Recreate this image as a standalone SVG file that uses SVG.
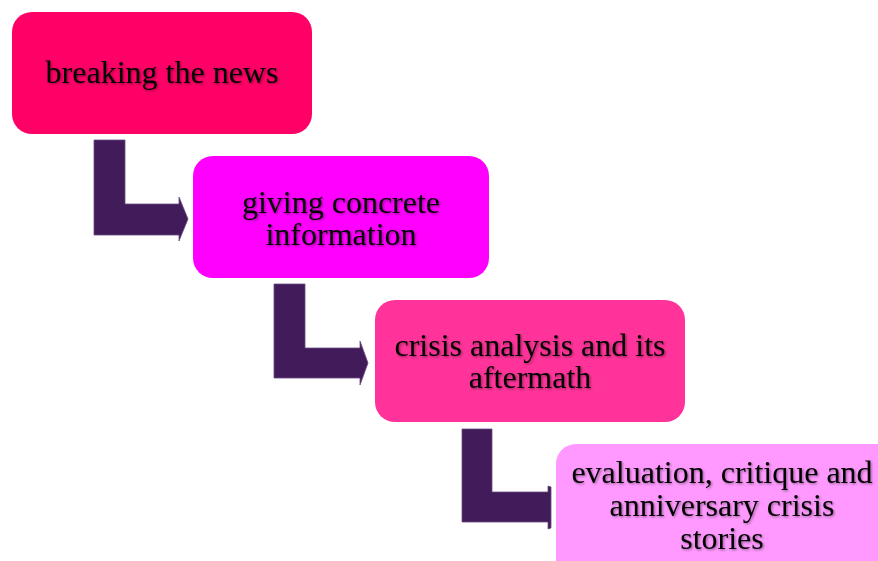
<svg xmlns="http://www.w3.org/2000/svg" width="878" height="561" viewBox="0 0 878 561">
<defs>
<filter id="sh" x="-10%" y="-30%" width="120%" height="160%">
<feDropShadow dx="1.2" dy="1.2" stdDeviation="0.8" flood-color="#000" flood-opacity="0.4"/>
</filter>
</defs>
<style>
.lbl{font-family:"Liberation Serif","Times New Roman",serif;font-size:32px;fill:#000;text-anchor:middle;filter:url(#sh)}
.arr{fill:#421C5A;stroke:#6A4A80;stroke-width:0.8}
</style>
<rect width="878" height="561" fill="#fff"/>
<g id="connectors">
<path class="arr" d="M94,140 H125 V204 H179 V197 L188,219 L179,241 V235 H94 Z"/>
<path class="arr" d="M274,284 H305 V348 H360 V341 L368,363 L360,385 V378 H274 Z"/>
<path class="arr" d="M462,429 H492 V492 H548 V486 L551,487 V528 L548,529 V522 H462 Z"/>
</g>
<g id="node1">
<rect x="12" y="12" width="300" height="122" rx="20" fill="#FF0066"/>
<text class="lbl" x="162" y="83">breaking the news</text>
</g>
<g id="node2">
<rect x="193" y="156" width="296" height="122" rx="20" fill="#FF00FF"/>
<text class="lbl" x="341" y="213">giving concrete</text>
<text class="lbl" x="341" y="245">information</text>
</g>
<g id="node3">
<rect x="375" y="300" width="310" height="122" rx="20" fill="#FF3399"/>
<text class="lbl" x="530" y="356">crisis analysis and its</text>
<text class="lbl" x="530" y="388">aftermath</text>
</g>
<g id="node4">
<rect x="556" y="444" width="340" height="140" rx="20" fill="#FF99FF"/>
<text class="lbl" x="722" y="483">evaluation, critique and</text>
<text class="lbl" x="722" y="516">anniversary crisis</text>
<text class="lbl" x="722" y="549">stories</text>
</g>
</svg>
